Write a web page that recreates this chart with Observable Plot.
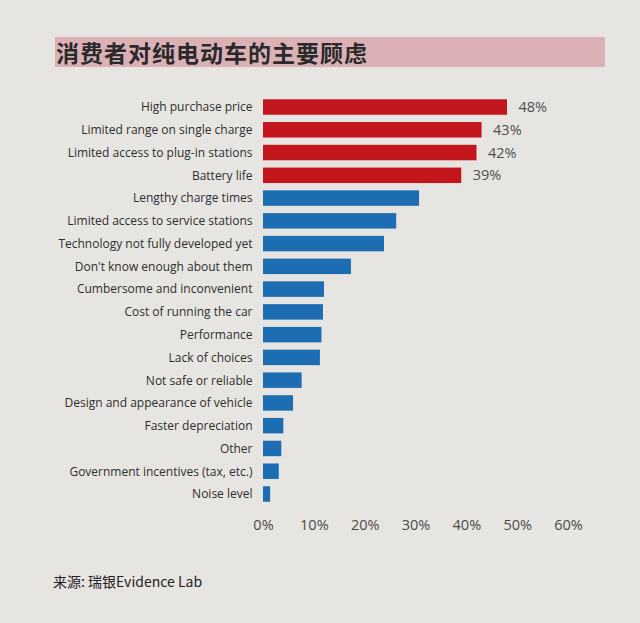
<!DOCTYPE html>
<html>
<head>
<meta charset="utf-8">
<script src="https://cdn.jsdelivr.net/npm/d3@7"></script>
<script src="https://cdn.jsdelivr.net/npm/@observablehq/plot@0.6"></script>
<style>
  html, body { margin: 0; padding: 0; }
  body { width: 640px; height: 623px; background: #e7e5e1; position: relative; overflow: hidden; font-family: "Open Sans", "Noto Sans", sans-serif; }
  #title { position: absolute; left: 55px; top: 37px; width: 550px; height: 30px; background: #dbb1b5; }
  #title span { position: absolute; left: 1px; top: 0; line-height: 30px; font-family: "Noto Sans CJK SC", sans-serif; font-weight: 700; font-size: 23px; color: #2a2a2a; letter-spacing: 1px; }
  #chart { position: absolute; left: 0; top: 90px; }
  #source { position: absolute; left: 53px; top: 571px; font-family: "Noto Sans CJK SC", sans-serif; font-size: 14px; color: #222; }
</style>
</head>
<body>
<div id="title"><span>消费者对纯电动车的主要顾虑</span></div>
<div id="chart"></div>
<div id="source">来源: 瑞银Evidence Lab</div>
<script>
const categories = [
  "High purchase price",
  "Limited range on single charge",
  "Limited access to plug-in stations",
  "Battery life",
  "Lengthy charge times",
  "Limited access to service stations",
  "Technology not fully developed yet",
  "Don't know enough about them",
  "Cumbersome and inconvenient",
  "Cost of running the car",
  "Performance",
  "Lack of choices",
  "Not safe or reliable",
  "Design and appearance of vehicle",
  "Faster depreciation",
  "Other",
  "Government incentives (tax, etc.)",
  "Noise level"
];
const values = [48, 43, 42, 39, 30.7, 26.2, 23.8, 17.3, 12.0, 11.8, 11.5, 11.2, 7.6, 5.9, 4.0, 3.6, 3.1, 1.4];
const highlighted = [true, true, true, true, false, false, false, false, false, false, false, false, false, false, false, false, false, false];
const valueLabels = ["48%", "43%", "42%", "39%"];
const xTicks = [0, 10, 20, 30, 40, 50, 60];

const data = categories.map((c, i) => ({
  category: c,
  value: values[i],
  top: highlighted[i],
  label: i < valueLabels.length ? valueLabels[i] : ""
}));

const plot = Plot.plot({
  width: 640,
  height: 450,
  marginLeft: 263,
  marginRight: 72,
  marginTop: 2,
  marginBottom: 31,
  style: { background: "transparent", fontFamily: "'Open Sans', 'Noto Sans', sans-serif" },
  x: { domain: [0, 60], ticks: xTicks, label: null },
  y: { domain: categories, padding: 0.32, round: false, label: null },
  marks: [
    Plot.gridX(xTicks.filter(d => d > 0), { stroke: "#c4c1bc", strokeOpacity: 0.8, strokeWidth: 1, y1: -6, y2: 419 }),
    Plot.barX(data, {
      y: "category",
      x: "value",
      fill: d => d.top ? "#c3161c" : "#1d6db3"
    }),
    Plot.text(data.filter(d => d.label), {
      y: "category",
      x: "value",
      text: "label",
      dx: 11,
      textAnchor: "start",
      fontSize: 14.5,
      fill: "#505050"
    }),
    Plot.ruleX([0], { stroke: "#1a1a1a", strokeWidth: 2.5, y1: -6, y2: 419 }),
    Plot.axisY({ tickSize: 0, tickPadding: 11, fontSize: 12, color: "#2e2e2e", label: null }),
    Plot.axisX({ ticks: xTicks, tickSize: 0, tickPadding: 10, fontSize: 14.5, color: "#4a4a4a", tickFormat: d => d + "%", label: null })
  ]
});
document.getElementById("chart").appendChild(plot);
</script>
</body>
</html>
